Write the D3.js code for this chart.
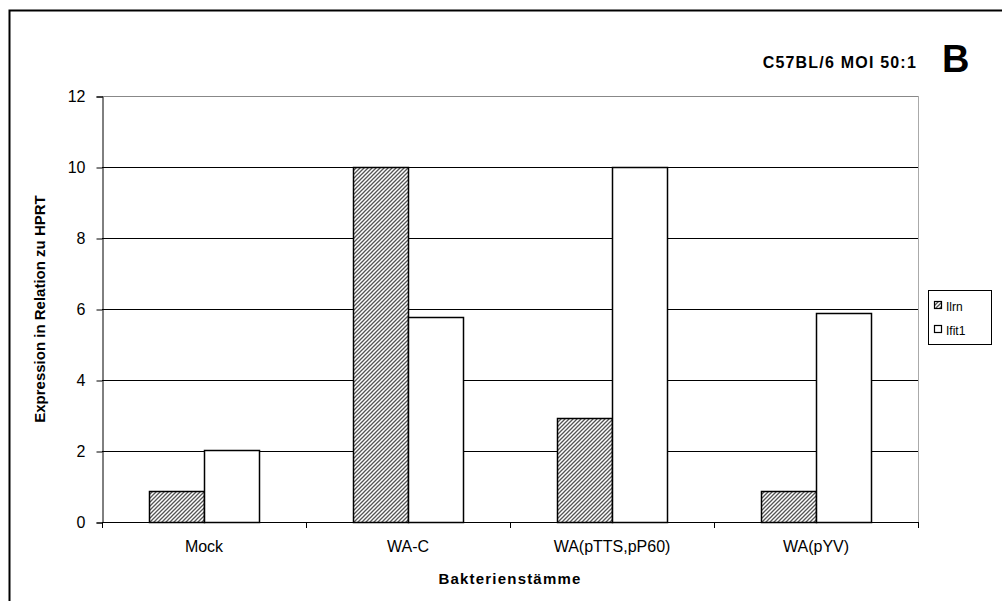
<!DOCTYPE html>
<html><head><meta charset="utf-8">
<script src="https://cdn.jsdelivr.net/npm/d3@7"></script>
<style>html,body{margin:0;padding:0;background:#fff;}svg{display:block;}text{font-family:"Liberation Sans",Arial,sans-serif;}</style>
</head><body>
<script>
const categories = ["Mock", "WA-C", "WA(pTTS,pP60)", "WA(pYV)"];
const seriesNames = ["Ilrn", "Ifit1"];
const ilrn = [0.87, 10.0, 2.92, 0.87];
const ifit1 = [2.04, 5.78, 10.0, 5.9];
const yTicks = [0, 2, 4, 6, 8, 10, 12];
const title = "C57BL/6 MOI 50:1";
const panel = "B";
const yLabel = "Expression in Relation zu HPRT";
const xLabel = "Bakterienstämme";

const W = 1002, H = 601;
const svg = d3.select("body").append("svg").attr("width", W).attr("height", H);
const defs = svg.append("defs");
const pat = defs.append("pattern").attr("id","hatch").attr("patternUnits","userSpaceOnUse")
  .attr("width",4).attr("height",4);
pat.append("rect").attr("width",4).attr("height",4).attr("fill","#fff");
pat.append("path").attr("d","M-1,1 l2,-2 M0,4 l4,-4 M3,5 l2,-2").attr("stroke","#555").attr("stroke-width",1.3);

// outer frame
svg.append("path").attr("d","M9.5,601 L9.5,10.5 L1002,10.5").attr("fill","none").attr("stroke","#000").attr("stroke-width",2);

const L = 102, R = 918, T = 96, B = 522;
const x = d3.scaleBand().domain(categories).range([L, R]);
const y = d3.scaleLinear().domain([0, 12]).range([B, T]);
const barW = 55;

svg.append("line").attr("x1",R+0.5).attr("x2",R+0.5).attr("y1",T).attr("y2",B).attr("stroke","#aaa");

svg.append("g").selectAll("line").data(yTicks.filter(d=>d>0)).join("line")
  .attr("x1",L).attr("x2",R).attr("y1",d=>Math.round(y(d))+0.5).attr("y2",d=>Math.round(y(d))+0.5)
  .attr("stroke",d=>d===12?"#888":"#000").attr("stroke-width",1);

const data = categories.map((c,i)=>({c, vals:[ilrn[i], ifit1[i]]}));
const g = svg.append("g");
data.forEach(d=>{
  const cx = x(d.c) + x.bandwidth()/2;
  d.vals.forEach((v,j)=>{
    const x0 = cx - barW + j*barW;
    g.append("rect").attr("x",Math.round(x0)+0.5).attr("y",Math.round(y(v))+0.5)
      .attr("width",barW).attr("height",Math.round(B - y(v)))
      .attr("fill", j===0 ? "url(#hatch)" : "#fff")
      .attr("stroke","#000").attr("stroke-width",1.5);
  });
});

const ya = d3.axisLeft(y).tickValues(yTicks).tickSize(6).tickPadding(11);
const yg = svg.append("g").attr("transform",`translate(${L+0.5},0.5)`).call(ya);
yg.select(".domain").attr("stroke","#000");
yg.selectAll("text").attr("font-size",16).attr("fill","#000").attr("font-family","Liberation Sans, Arial, sans-serif");

const xa = d3.axisBottom(x).tickSize(0).tickPadding(18);
const xg = svg.append("g").attr("transform",`translate(0,${B+0.5})`).call(xa);
xg.select(".domain").remove();
svg.append("line").attr("x1",L).attr("x2",R+1).attr("y1",B+0.5).attr("y2",B+0.5).attr("stroke","#000");
xg.selectAll("text").attr("font-size",16).attr("fill","#000").attr("font-family","Liberation Sans, Arial, sans-serif");
svg.append("g").selectAll("line").data(d3.range(categories.length+1)).join("line")
  .attr("x1",i=>Math.round(L + i*x.bandwidth())+0.5).attr("x2",i=>Math.round(L + i*x.bandwidth())+0.5)
  .attr("y1",B).attr("y2",B+6).attr("stroke","#000");

svg.append("text").attr("transform",`translate(45,${(T+B)/2}) rotate(-90)`).attr("text-anchor","middle")
  .attr("font-size",15).attr("font-weight","bold").text(yLabel);
svg.append("text").attr("x",(L+R)/2).attr("y",584).attr("text-anchor","middle")
  .attr("font-size",15).attr("font-weight","bold").attr("letter-spacing",1.2).text(xLabel);
svg.append("text").attr("x",917).attr("y",68).attr("text-anchor","end")
  .attr("font-size",16).attr("font-weight","bold").attr("letter-spacing",1.2).text(title);
svg.append("text").attr("x",942).attr("y",72).attr("font-size",38).attr("font-weight","bold").text(panel);

const lg = svg.append("g");
lg.append("rect").attr("x",928.5).attr("y",290.5).attr("width",63).attr("height",54).attr("fill","#fff").attr("stroke","#000");
seriesNames.forEach((n,i)=>{
  const yy = 306 + i*24;
  lg.append("rect").attr("x",934.5).attr("y",yy-4.5).attr("width",7).attr("height",7)
    .attr("fill", i===0 ? "url(#hatch)" : "#fff").attr("stroke","#000").attr("stroke-width",1.2);
  lg.append("text").attr("x",946).attr("y",yy+4.5).attr("font-size",12).text(n);
});
</script>
</body></html>
